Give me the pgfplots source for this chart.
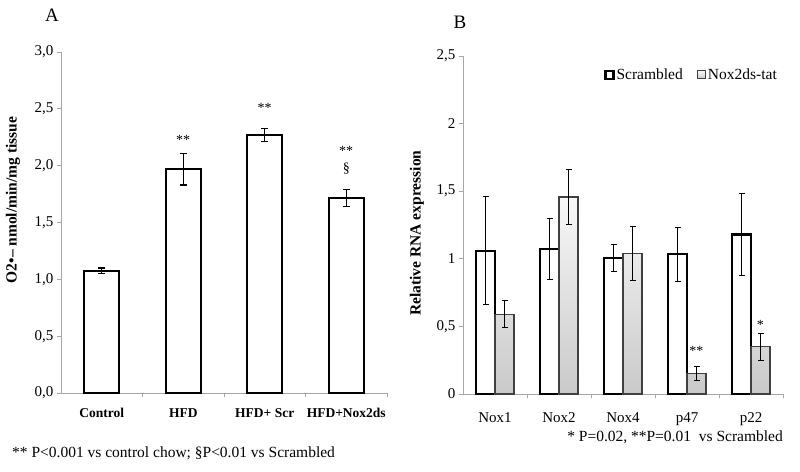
\documentclass[border=0pt]{standalone}
\usepackage{pgfplots}
\pgfplotsset{compat=1.18}
\usepackage{fontspec}
\setmainfont{Liberation Serif}
\definecolor{axgray}{HTML}{A6A6A6}
\begin{document}
\begin{tikzpicture}[x=1pt,y=1pt]
\path[use as bounding box] (0,0) rectangle (800,471);
% Panel A
\begin{axis}[
  at={(61pt,78pt)}, anchor=south west,
  scale only axis, width=326pt, height=341pt,
  xmin=-0.5, xmax=3.5, ymin=0, ymax=3,
  axis x line*=bottom, axis y line*=left,
  axis line style={draw=axgray, line width=0.8pt},
  tick style={draw=axgray, line width=0.8pt},
  tick align=outside, major tick length=4pt,
  ytick={0,0.5,...,3},
  /pgf/number format/assume math mode=true,
  /pgf/number format/fixed, /pgf/number format/fixed zerofill,
  /pgf/number format/precision=1, /pgf/number format/use comma,
  y tick label style={font=\fontsize{15}{17}\selectfont},
  xtick={0.5,1.5,2.5,3.5}, xticklabels={},
  extra x ticks={0,1,2,3},
  extra x tick labels={Control, HFD, HFD+ Scr, HFD+Nox2ds},
  extra x tick style={major tick length=0pt, tick label style={font=\bfseries\fontsize{13.5}{15}\selectfont, yshift=-12pt}},
  ylabel={O2•– nmol/min/mg tissue},
  ylabel style={font=\bfseries\fontsize{15.5}{17}\selectfont, at={(axis description cs:-0.147,0.566)}, anchor=center},
  clip=false,
  ybar, bar width=35pt,
]
\addplot[draw=black, line width=2.2pt, fill=white,
  error bars/.cd, y dir=both, y explicit,
  error bar style={line width=1.1pt, black},
  error mark options={rotate=90, mark size=3.5pt, line width=1.1pt, black}]
  coordinates {(0,1.075) +- (0,0.025) (1,1.97) +- (0,0.14) (2,2.27) +- (0,0.06) (3,1.715) +- (0,0.075)};
\node[font=\fontsize{14}{16}\selectfont] at (axis cs:1,2.23) {**};
\node[font=\fontsize{14}{16}\selectfont] at (axis cs:2,2.51) {**};
\node[font=\fontsize{14}{16}\selectfont] at (axis cs:3,2.13) {**};
\node[font=\fontsize{14}{16}\selectfont] at (axis cs:3,1.97) {§};
\end{axis}
% Panel B
\begin{axis}[
  at={(463pt,77pt)}, anchor=south west,
  scale only axis, width=320pt, height=338pt,
  xmin=-0.5, xmax=4.5, ymin=0, ymax=2.5,
  axis x line*=bottom, axis y line*=left,
  axis line style={draw=axgray, line width=0.8pt},
  tick style={draw=axgray, line width=0.8pt},
  tick align=outside, major tick length=4pt,
  ytick={0,0.5,...,2.5},
  /pgf/number format/assume math mode=true,
  /pgf/number format/use comma,
  y tick label style={font=\fontsize{15}{17}\selectfont},
  xtick={0.5,1.5,2.5,3.5,4.5}, xticklabels={},
  extra x ticks={0,1,2,3,4},
  extra x tick labels={Nox1, Nox2, Nox4, p47, p22},
  extra x tick style={major tick length=0pt, tick label style={font=\fontsize{15}{17}\selectfont, yshift=-15pt}},
  ylabel={Relative RNA expression},
  ylabel style={font=\bfseries\fontsize{15.5}{17}\selectfont, at={(axis description cs:-0.144,0.476)}, anchor=center},
  clip=false,
  ybar=0pt, bar width=19pt,
  legend columns=2,
  legend style={draw=none, fill=none, font=\fontsize{15.5}{17}\selectfont,
    at={(axis description cs:0.997,0.975)}, anchor=north east,
    /tikz/every odd column/.append style={column sep=0pt},
    /tikz/every even column/.append style={column sep=12pt}},
  legend image code/.code={\draw[#1] (0pt,-4pt) rectangle (8pt,4pt);},
]
\addplot[draw=black, line width=2.2pt, fill=white,
  error bars/.cd, y dir=both, y explicit,
  error bar style={line width=1pt, black},
  error mark options={rotate=90, mark size=3pt, line width=1pt, black}]
  coordinates {(0,1.06) +- (0,0.40) (1,1.07) +- (0,0.225) (2,1.008) +- (0,0.10) (3,1.033) +- (0,0.20) (4,1.18) +- (0,0.30)};
\addlegendentry{Scrambled}
\addplot[draw=black!75, line width=1.1pt, top color=gray!6, bottom color=gray!42,
  error bars/.cd, y dir=both, y explicit,
  error bar style={line width=1pt, black},
  error mark options={rotate=90, mark size=3pt, line width=1pt, black}]
  coordinates {(0,0.59) +- (0,0.10) (1,1.457) +- (0,0.205) (2,1.04) +- (0,0.20) (3,0.15) +- (0,0.05) (4,0.35) +- (0,0.10)};
\addlegendentry{Nox2ds-tat}
\node[font=\fontsize{14}{16}\selectfont] at (axis cs:3.148,0.32) {**};
\node[font=\fontsize{14}{16}\selectfont] at (axis cs:4.148,0.51) {*};
\end{axis}
\node[font=\fontsize{19}{21}\selectfont] at (52,456) {A};
\node[font=\fontsize{19}{21}\selectfont] at (460,449) {B};
\node[anchor=west, font=\fontsize{15.5}{17}\selectfont, inner sep=0pt] at (12,18) {** P<0.001 vs control chow; §P<0.01 vs Scrambled};
\node[anchor=east, font=\fontsize{15.5}{17}\selectfont, inner sep=0pt] at (783,34) {* P=0.02, **P=0.01 \ vs Scrambled};
\end{tikzpicture}
\end{document}
